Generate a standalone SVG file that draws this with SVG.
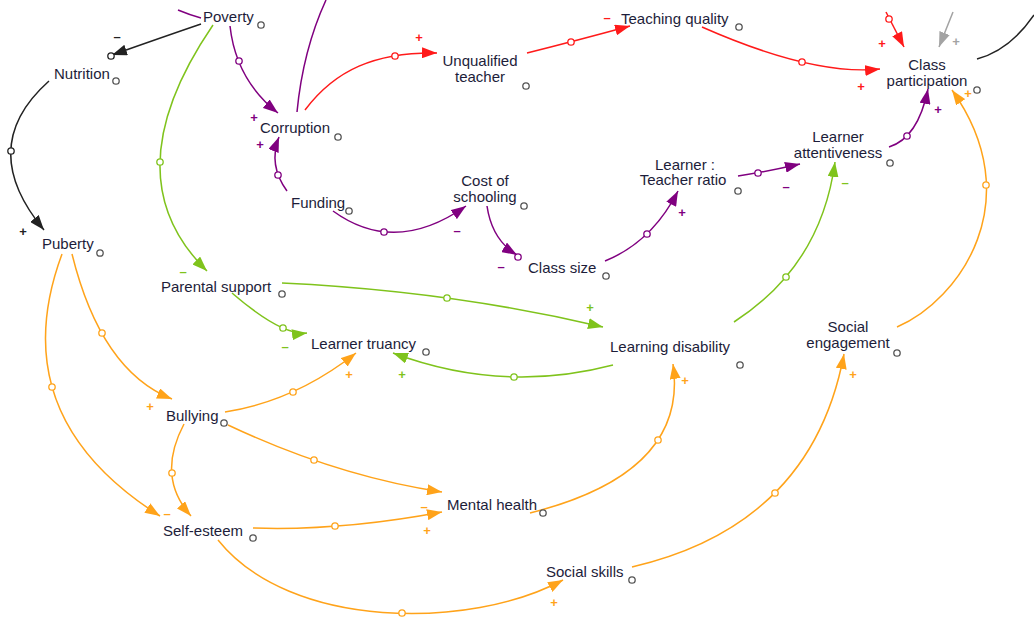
<svg xmlns="http://www.w3.org/2000/svg" width="1034" height="619" viewBox="0 0 1034 619">
  <defs>
    <style>
      .lbl { font-family: "Liberation Sans", Arial, sans-serif; font-size: 15px; fill: #1d1d3a; }
      .mid { text-anchor: middle; }
      .port { fill: #fff; stroke: #555; stroke-width: 1.3; }
      .link { fill: none; stroke-width: 1.5; }
      .dot { fill: #fff; stroke-width: 1.3; }
      .sgn { font-family: "Liberation Sans", Arial, sans-serif; font-size: 13px; font-weight: bold; text-anchor: middle; }
      .k { stroke: #222; marker-end: url(#ak); }
      .p { stroke: #800080; marker-end: url(#ap); }
      .r { stroke: #ff1a1a; marker-end: url(#ar); }
      .g { stroke: #7fc31c; marker-end: url(#ag); }
      .o { stroke: #ffa31a; marker-end: url(#ao); }
      .y { stroke: #a3a3a3; marker-end: url(#ay); }
      .open { marker-end: none; }
      .dk { stroke: #222; } .dp { stroke: #800080; } .dr { stroke: #ff1a1a; } .dg { stroke: #7fc31c; } .do { stroke: #ffa31a; }
      .sk { fill: #222; } .sp { fill: #800080; } .sr { fill: #ff1a1a; } .sg { fill: #7fc31c; } .so { fill: #ffa31a; } .sy { fill: #a3a3a3; }
    </style>
    <marker id="ak" viewBox="0 0 15 11" refX="15" refY="5.5" markerWidth="15" markerHeight="11" markerUnits="userSpaceOnUse" orient="auto"><path d="M0,0 L15,5.5 L0,11 z" fill="#222"/></marker>
    <marker id="ap" viewBox="0 0 15 11" refX="15" refY="5.5" markerWidth="15" markerHeight="11" markerUnits="userSpaceOnUse" orient="auto"><path d="M0,0 L15,5.5 L0,11 z" fill="#800080"/></marker>
    <marker id="ar" viewBox="0 0 15 11" refX="15" refY="5.5" markerWidth="15" markerHeight="11" markerUnits="userSpaceOnUse" orient="auto"><path d="M0,0 L15,5.5 L0,11 z" fill="#ff1a1a"/></marker>
    <marker id="ag" viewBox="0 0 15 11" refX="15" refY="5.5" markerWidth="15" markerHeight="11" markerUnits="userSpaceOnUse" orient="auto"><path d="M0,0 L15,5.5 L0,11 z" fill="#7fc31c"/></marker>
    <marker id="ao" viewBox="0 0 15 11" refX="15" refY="5.5" markerWidth="15" markerHeight="11" markerUnits="userSpaceOnUse" orient="auto"><path d="M0,0 L15,5.5 L0,11 z" fill="#ffa31a"/></marker>
    <marker id="ay" viewBox="0 0 15 11" refX="15" refY="5.5" markerWidth="15" markerHeight="11" markerUnits="userSpaceOnUse" orient="auto"><path d="M0,0 L15,5.5 L0,11 z" fill="#a3a3a3"/></marker>
  </defs>
  <rect width="1034" height="619" fill="#fff"/>

  <!-- causal links: curve, midpoint handle, polarity -->
  <g id="links">
    <g id="l-poverty-nutrition"><path class="link k" d="M201,24 Q160,38 112,55"/><circle class="dot dk" cx="111" cy="56" r="3.2"/><text class="sgn sk" x="117" y="41">–</text></g>
    <g id="l-nutrition-puberty"><path class="link k" d="M49,81 Q-25,147 44,230"/><circle class="dot dk" cx="11" cy="151" r="3.2"/><text class="sgn sk" x="23" y="236">+</text></g>
    <g id="l-poverty-corruption"><path class="link p" d="M230,26 Q236,80 278,113"/><circle class="dot dp" cx="239" cy="61" r="3.2"/><text class="sgn sp" x="254" y="122">+</text></g>
    <g id="l-in-poverty"><path class="link p open" d="M178,10 Q190,15 201,18"/></g>
    <g id="l-corruption-out"><path class="link p open" d="M297,112 Q303,50 326,0"/></g>
    <g id="l-corruption-unqualified"><path class="link r" d="M305,110 C335,70 375,52 437,53"/><circle class="dot dr" cx="395" cy="56" r="3.2"/><text class="sgn sr" x="419" y="42">+</text></g>
    <g id="l-unqualified-teaching"><path class="link r" d="M527,53 Q575,41 630,26"/><circle class="dot dr" cx="571" cy="42" r="3.2"/><text class="sgn sr" x="607" y="22">–</text></g>
    <g id="l-teaching-participation"><path class="link r" d="M702,27 Q813,76 880,69"/><circle class="dot dr" cx="802" cy="62" r="3.2"/><text class="sgn sr" x="861" y="91">+</text></g>
    <g id="l-red-in-participation"><path class="link r" d="M886,12 L904,47"/><circle class="dot dr" cx="889" cy="19" r="3.2"/><text class="sgn sr" x="882" y="48">+</text></g>
    <g id="l-grey-in-participation"><path class="link y" d="M953,12 L939,47"/><text class="sgn sy" x="956" y="46">+</text></g>
    <g id="l-participation-out"><path class="link k open" d="M977,59 Q1010,50 1034,15"/></g>
    <g id="l-attentiveness-participation"><path class="link p" d="M889,147 Q918,138 928,89"/><circle class="dot dp" cx="907" cy="136" r="3.2"/><text class="sgn sp" x="938" y="114">+</text></g>
    <g id="l-engagement-participation"><path class="link o" d="M897,327 C960,300 1030,200 952,90"/><circle class="dot do" cx="986" cy="185" r="3.2"/><text class="sgn so" x="968" y="98">+</text></g>
    <g id="l-funding-corruption"><path class="link p" d="M287,191 Q268,165 279,137"/><circle class="dot dp" cx="278" cy="175" r="3.2"/><text class="sgn sp" x="260" y="149">+</text></g>
    <g id="l-funding-cost"><path class="link p" d="M333,211 Q395,256 466,206"/><circle class="dot dp" cx="384" cy="232" r="3.2"/><text class="sgn sp" x="457" y="235">–</text></g>
    <g id="l-cost-classsize"><path class="link p" d="M487,206 Q492,240 517,255"/><circle class="dot dp" cx="518" cy="257" r="3.2"/><text class="sgn sp" x="501" y="271">–</text></g>
    <g id="l-classsize-ratio"><path class="link p" d="M605,261 Q652,242 678,191"/><circle class="dot dp" cx="647" cy="234" r="3.2"/><text class="sgn sp" x="682" y="217">+</text></g>
    <g id="l-ratio-attentiveness"><path class="link p" d="M738,176 Q765,172 800,164"/><circle class="dot dp" cx="758" cy="173" r="3.2"/><text class="sgn sp" x="786" y="191">–</text></g>
    <g id="l-disability-attentiveness"><path class="link g" d="M734,322 Q821,266 835,162"/><circle class="dot dg" cx="786" cy="277" r="3.2"/><text class="sgn sg" x="845" y="187">–</text></g>
    <g id="l-poverty-parental"><path class="link g" d="M213,25 Q110,176 207,271"/><circle class="dot dg" cx="160" cy="162" r="3.2"/><text class="sgn sg" x="183" y="276">–</text></g>
    <g id="l-parental-truancy"><path class="link g" d="M232,293 Q282,336 307,333"/><circle class="dot dg" cx="283" cy="328" r="3.2"/><text class="sgn sg" x="285" y="351">–</text></g>
    <g id="l-parental-disability"><path class="link g" d="M282,283 Q451,291 603,327"/><circle class="dot dg" cx="447" cy="298" r="3.2"/><text class="sgn sg" x="590" y="312">+</text></g>
    <g id="l-disability-truancy"><path class="link g" d="M613,365 Q503,394 393,353"/><circle class="dot dg" cx="514" cy="377" r="3.2"/><text class="sgn sg" x="402" y="379">+</text></g>
    <g id="l-puberty-bullying"><path class="link o" d="M72,254 Q101,371 172,399"/><circle class="dot do" cx="102" cy="333" r="3.2"/><text class="sgn so" x="150" y="411">+</text></g>
    <g id="l-puberty-selfesteem"><path class="link o" d="M62,254 Q2,416 160,516"/><circle class="dot do" cx="52" cy="387" r="3.2"/><text class="sgn so" x="167" y="518">–</text></g>
    <g id="l-bullying-truancy"><path class="link o" d="M225,412 Q295,401 356,353"/><circle class="dot do" cx="293" cy="392" r="3.2"/><text class="sgn so" x="349" y="379">+</text></g>
    <g id="l-bullying-mental"><path class="link o" d="M228,425 Q336,476 442,492"/><circle class="dot do" cx="314" cy="460" r="3.2"/><text class="sgn so" x="424" y="511">–</text></g>
    <g id="l-bullying-selfesteem"><path class="link o" d="M184,424 Q156,477 191,516"/><circle class="dot do" cx="172" cy="473" r="3.2"/></g>
    <g id="l-selfesteem-mental"><path class="link o" d="M253,528 Q341,531 442,512"/><circle class="dot do" cx="335" cy="526" r="3.2"/><text class="sgn so" x="427" y="535">+</text></g>
    <g id="l-selfesteem-skills"><path class="link o" d="M218,540 C290,630 470,630 563,580"/><circle class="dot do" cx="402" cy="613" r="3.2"/><text class="sgn so" x="554" y="607">+</text></g>
    <g id="l-mental-disability"><path class="link o" d="M530,513 Q689,473 673,364"/><circle class="dot do" cx="658" cy="440" r="3.2"/><text class="sgn so" x="685" y="385">+</text></g>
    <g id="l-skills-engagement"><path class="link o" d="M632,567 Q812,525 844,354"/><circle class="dot do" cx="775" cy="493" r="3.2"/><text class="sgn so" x="853" y="379">+</text></g>
  </g>

  <!-- variables -->
  <g id="poverty"><text class="lbl" x="203" y="22">Poverty</text><circle class="port" cx="261" cy="25" r="3.2"/></g>
  <g id="nutrition"><text class="lbl" x="54" y="79">Nutrition</text><circle class="port" cx="116" cy="81" r="3.2"/></g>
  <g id="corruption"><text class="lbl" x="260" y="133">Corruption</text><circle class="port" cx="338" cy="137" r="3.2"/></g>
  <g id="funding"><text class="lbl" x="291" y="208">Funding</text><circle class="port" cx="349" cy="211" r="3.2"/></g>
  <g id="puberty"><text class="lbl" x="42" y="249">Puberty</text><circle class="port" cx="100" cy="253" r="3.2"/></g>
  <g id="unqualified-teacher"><text class="lbl mid" x="480" y="66">Unqualified</text><text class="lbl mid" x="480" y="82">teacher</text><circle class="port" cx="526" cy="86" r="3.2"/></g>
  <g id="teaching-quality"><text class="lbl" x="621" y="24">Teaching quality</text><circle class="port" cx="739" cy="27" r="3.2"/></g>
  <g id="class-participation"><text class="lbl mid" x="927" y="70">Class</text><text class="lbl mid" x="927" y="86">participation</text><circle class="port" cx="977" cy="90" r="3.2"/></g>
  <g id="learner-attentiveness"><text class="lbl mid" x="838" y="142">Learner</text><text class="lbl mid" x="838" y="158">attentiveness</text><circle class="port" cx="890" cy="163" r="3.2"/></g>
  <g id="learner-teacher-ratio"><text class="lbl mid" x="685" y="170">Learner :</text><text class="lbl mid" x="683" y="185">Teacher ratio</text><circle class="port" cx="738" cy="191" r="3.2"/></g>
  <g id="cost-of-schooling"><text class="lbl mid" x="485" y="186">Cost of</text><text class="lbl mid" x="485" y="202">schooling</text><circle class="port" cx="524" cy="206" r="3.2"/></g>
  <g id="class-size"><text class="lbl" x="528" y="273">Class size</text><circle class="port" cx="606" cy="276" r="3.2"/></g>
  <g id="parental-support"><text class="lbl" x="161" y="292">Parental support</text><circle class="port" cx="282" cy="294" r="3.2"/></g>
  <g id="learner-truancy"><text class="lbl" x="311" y="349">Learner truancy</text><circle class="port" cx="426" cy="352" r="3.2"/></g>
  <g id="learning-disability"><text class="lbl" x="610" y="352">Learning disability</text><circle class="port" cx="740" cy="365" r="3.2"/></g>
  <g id="social-engagement"><text class="lbl mid" x="848" y="332">Social</text><text class="lbl mid" x="848" y="348">engagement</text><circle class="port" cx="897" cy="353" r="3.2"/></g>
  <g id="bullying"><text class="lbl" x="166" y="421">Bullying</text><circle class="port" cx="224" cy="423" r="3.2"/></g>
  <g id="self-esteem"><text class="lbl" x="163" y="536">Self-esteem</text><circle class="port" cx="253" cy="538" r="3.2"/></g>
  <g id="mental-health"><text class="lbl" x="447" y="510">Mental health</text><circle class="port" cx="543" cy="513" r="3.2"/></g>
  <g id="social-skills"><text class="lbl" x="546" y="577">Social skills</text><circle class="port" cx="632" cy="580" r="3.2"/></g>
</svg>
